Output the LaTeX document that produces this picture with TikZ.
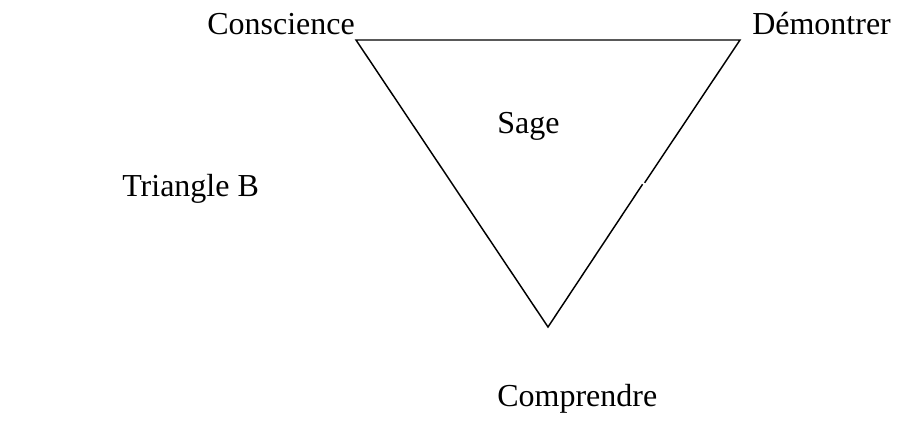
\documentclass[tikz,border=0pt]{standalone}
\usepackage{fontspec}
\setmainfont{Liberation Serif}
\begin{document}
\begin{tikzpicture}[x=0.75pt,y=-0.75pt,
  lbl/.style={anchor=base west,inner sep=0pt,font=\fontsize{24}{28}\selectfont},
  edge/.style={line width=1.1pt,line join=miter}]
\useasboundingbox (0,0) rectangle (911,421);
\coordinate (tl) at (356,40);
\coordinate (tr) at (740,40);
\coordinate (bt) at (548,327);
\coordinate (j1) at (644.6,182.8);
\coordinate (j2) at (642.6,184.2);
\draw[edge] (j2) -- (bt) -- (tl) -- (tr) -- (j1);
\node[lbl] (consc) at (207,34) {Conscience};
\node[lbl] (demon) at (752,34) {Démontrer};
\node[lbl] (sage) at (497,133) {Sage};
\node[lbl] (tri) at (122,196) {Triangle B};
\node[lbl] (comp) at (497,406) {Comprendre};
\end{tikzpicture}
\end{document}
